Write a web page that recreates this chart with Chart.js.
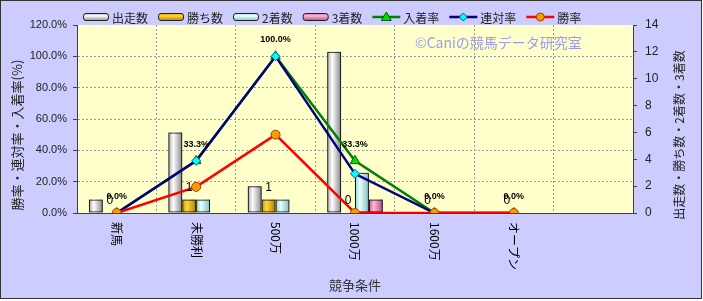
<!DOCTYPE html>
<html>
<head>
<meta charset="utf-8">
<script src="https://cdn.jsdelivr.net/npm/chart.js@4.4.1/dist/chart.umd.min.js"></script>
<style>
    html, body { margin: 0; padding: 0; background: #fff; }
    #wrap { width: 703px; height: 301px; position: relative; }
</style>
</head>
<body>
<div id="wrap"><canvas id="chart"></canvas></div>
<script>
// Chart data
const categories = ['新馬', '未勝利', '500万', '1000万', '1600万', 'オープン', ''];
const runs = [1, 6, 2, 12, 0, 0];
const wins = [0, 1, 1, 0, 0, 0];
const seconds = [0, 1, 1, 3, 0, 0];
const thirds = [0, 0, 0, 1, 0, 0];
const placeRate = [0, 33.3, 100, 33.3, 0, 0];
const quinellaRate = [0, 33.3, 100, 25, 0, 0];
const winRate = [0, 16.7, 50, 0, 0, 0];
const rateTicks = [0, 20, 40, 60, 80, 100, 120];
const countTicks = [0, 2, 4, 6, 8, 10, 12, 14];

const FONT = "'Liberation Sans', 'Noto Sans CJK JP', sans-serif";
const JFONT = "'Noto Sans CJK JP', sans-serif";

// cylinder-ish shading for the bars: edge, highlight, edge
const barShades = [
    ['#a4a4a4', '#ffffff', '#868686'],
    ['#c89600', '#ffd83a', '#a87e00'],
    ['#94d0d0', '#e8ffff', '#82bcbc'],
    ['#c0608a', '#ffb6d6', '#a85078']
];

function shade(ctx, x0, y0, x1, y1, s) {
    const g = ctx.createLinearGradient(x0, y0, x1, y1);
    g.addColorStop(0, s[0]); g.addColorStop(0.35, s[1]); g.addColorStop(1, s[2]);
    return g;
}

function drawMarker(ctx, style, x, y, r, fill, stroke) {
    ctx.save();
    ctx.fillStyle = fill; ctx.strokeStyle = stroke; ctx.lineWidth = 1;
    ctx.beginPath();
    if (style === 'triangle') {
        ctx.moveTo(x, y - r); ctx.lineTo(x + r, y + r * 0.7); ctx.lineTo(x - r, y + r * 0.7); ctx.closePath();
    } else if (style === 'rectRot') {
        ctx.moveTo(x, y - r); ctx.lineTo(x + r, y); ctx.lineTo(x, y + r); ctx.lineTo(x - r, y); ctx.closePath();
    } else {
        ctx.arc(x, y, r, 0, Math.PI * 2);
    }
    ctx.fill(); ctx.stroke();
    ctx.restore();
}

const decoPlugin = {
    id: 'deco',
    beforeDraw(chart) {
        const { ctx, chartArea: a } = chart;
        ctx.save();
        ctx.fillStyle = '#ffffff';
        ctx.fillRect(0, 0, chart.width, chart.height);
        ctx.fillStyle = '#ccccff';
        ctx.fillRect(0, 0, 702, 299);
        ctx.strokeStyle = '#333';
        ctx.lineWidth = 1;
        ctx.strokeRect(0.5, 0.5, 701, 298);
        ctx.fillStyle = '#ffffcc';
        ctx.fillRect(a.left, a.top, a.right - a.left, a.bottom - a.top);
        // watermark
        ctx.fillStyle = '#9c9cf0';
        ctx.font = '14px ' + JFONT;
        ctx.textBaseline = 'middle';
        ctx.fillText('©Caniの競馬データ研究室', 415, 43);
        ctx.restore();
    },
    beforeDatasetDraw(chart, args) {
        const meta = args.meta;
        if (meta.type !== 'bar') return;
        const s = barShades[args.index];
        const ctx = chart.ctx;
        ctx.save();
        meta.data.forEach(el => {
            const top = Math.min(el.y, el.base), h = Math.abs(el.base - el.y);
            if (h < 0.5) return;
            const left = el.x - el.width / 2;
            ctx.fillStyle = shade(ctx, left, 0, left + el.width, 0, s);
            ctx.fillRect(left, top, el.width, h);
        });
        ctx.restore();
    },
    afterDraw(chart) {
        const { ctx, chartArea: a, scales } = chart;
        const ds = chart.data.datasets;
        ctx.save();

        // legend
        let x = 83;
        const ly = 17;
        ctx.font = '12px ' + JFONT;
        ctx.textBaseline = 'middle';
        ctx.textAlign = 'left';
        ds.forEach((d, i) => {
            if (d.type === 'line') {
                ctx.strokeStyle = d.borderColor; ctx.lineWidth = 2.5;
                ctx.beginPath(); ctx.moveTo(x, ly); ctx.lineTo(x + 28, ly); ctx.stroke();
                drawMarker(ctx, d.pointStyle, x + 14, ly, d.pointRadius - 0.5, d.pointBackgroundColor, d.pointBorderColor);
                x += 31;
            } else {
                ctx.fillStyle = shade(ctx, 0, ly - 4, 0, ly + 4, barShades[i]);
                ctx.strokeStyle = '#222'; ctx.lineWidth = 1;
                ctx.beginPath(); ctx.roundRect(x + 0.5, ly - 3.5, 25, 7, 2.5); ctx.fill(); ctx.stroke();
                x += 29;
            }
            ctx.fillStyle = '#222';
            ctx.fillText(d.label, x, ly + 1);
            x += ctx.measureText(d.label).width + 10;
        });

        // category labels, turned clockwise
        ctx.fillStyle = '#000';
        ctx.font = '12px ' + JFONT;
        categories.forEach((c, i) => {
            if (!c) return;
            ctx.save();
            ctx.translate(scales.x.getPixelForValue(i), a.bottom + 9);
            ctx.rotate(Math.PI / 2);
            ctx.textAlign = 'left'; ctx.textBaseline = 'middle';
            ctx.fillText(c, 0, 0);
            ctx.restore();
        });

        // axis titles
        ctx.fillStyle = '#222';
        ctx.font = '13px ' + JFONT;
        ctx.textAlign = 'center'; ctx.textBaseline = 'middle';
        ctx.save();
        ctx.translate(17, (a.top + a.bottom) / 2 + 16);
        ctx.rotate(-Math.PI / 2);
        ctx.fillText('勝率・連対率・入着率(%)', 0, 0);
        ctx.restore();
        ctx.save();
        ctx.translate(679, (a.top + a.bottom) / 2 + 16);
        ctx.rotate(-Math.PI / 2);
        ctx.font = '12px ' + JFONT;
        ctx.fillText('出走数・勝ち数・2着数・3着数', 0, 0);
        ctx.restore();
        ctx.fillStyle = '#333';
        ctx.font = '13px ' + JFONT;
        ctx.fillText('競争条件', (a.left + a.right) / 2, 285);

        // value labels: 入着率 above its points, 勝ち数 above its bars
        ctx.fillStyle = '#000';
        const placeMeta = chart.getDatasetMeta(4);
        ctx.font = 'bold 9px ' + FONT;
        placeMeta.data.forEach((el, i) => {
            if (placeRate[i] == null) return;
            ctx.fillText(placeRate[i].toFixed(1) + '%', el.x, el.y - 16.5);
        });
        const winMeta = chart.getDatasetMeta(1);
        ctx.font = '12px ' + FONT;
        winMeta.data.forEach((el, i) => {
            if (wins[i] == null) return;
            ctx.fillText(String(wins[i]), el.x, Math.min(el.y, el.base) - 12);
        });
        ctx.restore();
    }
};

const barCommon = { yAxisID: 'y1', backgroundColor: 'transparent', borderColor: '#111', borderWidth: 1, borderSkipped: false, categoryPercentage: 0.7, barPercentage: 1, order: 10 };
const lineCommon = { type: 'line', yAxisID: 'y', borderWidth: 2.5, tension: 0, pointBorderWidth: 1, fill: false };

new Chart(document.getElementById('chart'), {
    type: 'bar',
    data: {
        labels: categories,
        datasets: [
            { ...barCommon, label: '出走数', data: runs },
            { ...barCommon, label: '勝ち数', data: wins },
            { ...barCommon, label: '2着数', data: seconds },
            { ...barCommon, label: '3着数', data: thirds },
            { ...lineCommon, label: '入着率', data: placeRate, borderColor: '#008000', pointStyle: 'triangle', pointRadius: 5.5, pointBackgroundColor: '#00dd00', pointBorderColor: '#006000', order: 3 },
            { ...lineCommon, label: '連対率', data: quinellaRate, borderColor: '#000080', pointStyle: 'rectRot', pointRadius: 4.5, pointBackgroundColor: '#00ffff', pointBorderColor: '#006080', order: 2 },
            { ...lineCommon, label: '勝率', data: winRate, borderColor: '#ff0000', pointStyle: 'circle', pointRadius: 4.5, pointBackgroundColor: '#ff9900', pointBorderColor: '#994400', order: 1 }
        ]
    },
    options: {
        responsive: true,
        maintainAspectRatio: false,
        animation: false,
        layout: { padding: { top: 25, left: 0, right: 0, bottom: 0 } },
        plugins: { legend: { display: false }, tooltip: { enabled: false } },
        scales: {
            x: {
                offset: true,
                grid: { color: '#9a9a9a', drawTicks: false, offset: true },
                border: { color: '#404040', dash: [2, 2] },
                ticks: { display: false },
                afterFit: s => { s.height = 88; }
            },
            y: {
                position: 'left', min: 0, max: 120,
                afterBuildTicks: s => { s.ticks = rateTicks.map(v => ({ value: v })); },
                ticks: { callback: v => v.toFixed(1) + '%', color: '#222', font: { family: FONT, size: 11 }, padding: 6 },
                grid: { color: c => (c.tick && c.tick.value === 120) ? 'rgba(0,0,0,0)' : '#9a9a9a', tickLength: 4, tickColor: '#404040' },
                border: { color: '#404040', dash: [2, 2] },
                afterFit: s => { s.width = 77; }
            },
            y1: {
                position: 'right', min: 0, max: 14,
                afterBuildTicks: s => { s.ticks = countTicks.map(v => ({ value: v })); },
                ticks: { color: '#222', font: { family: FONT, size: 12 }, padding: 8 },
                grid: { drawOnChartArea: false, tickLength: 4, tickColor: '#404040' },
                border: { color: '#404040' },
                afterFit: s => { s.width = 70; }
            }
        }
    },
    plugins: [decoPlugin]
});
</script>
</body>
</html>
